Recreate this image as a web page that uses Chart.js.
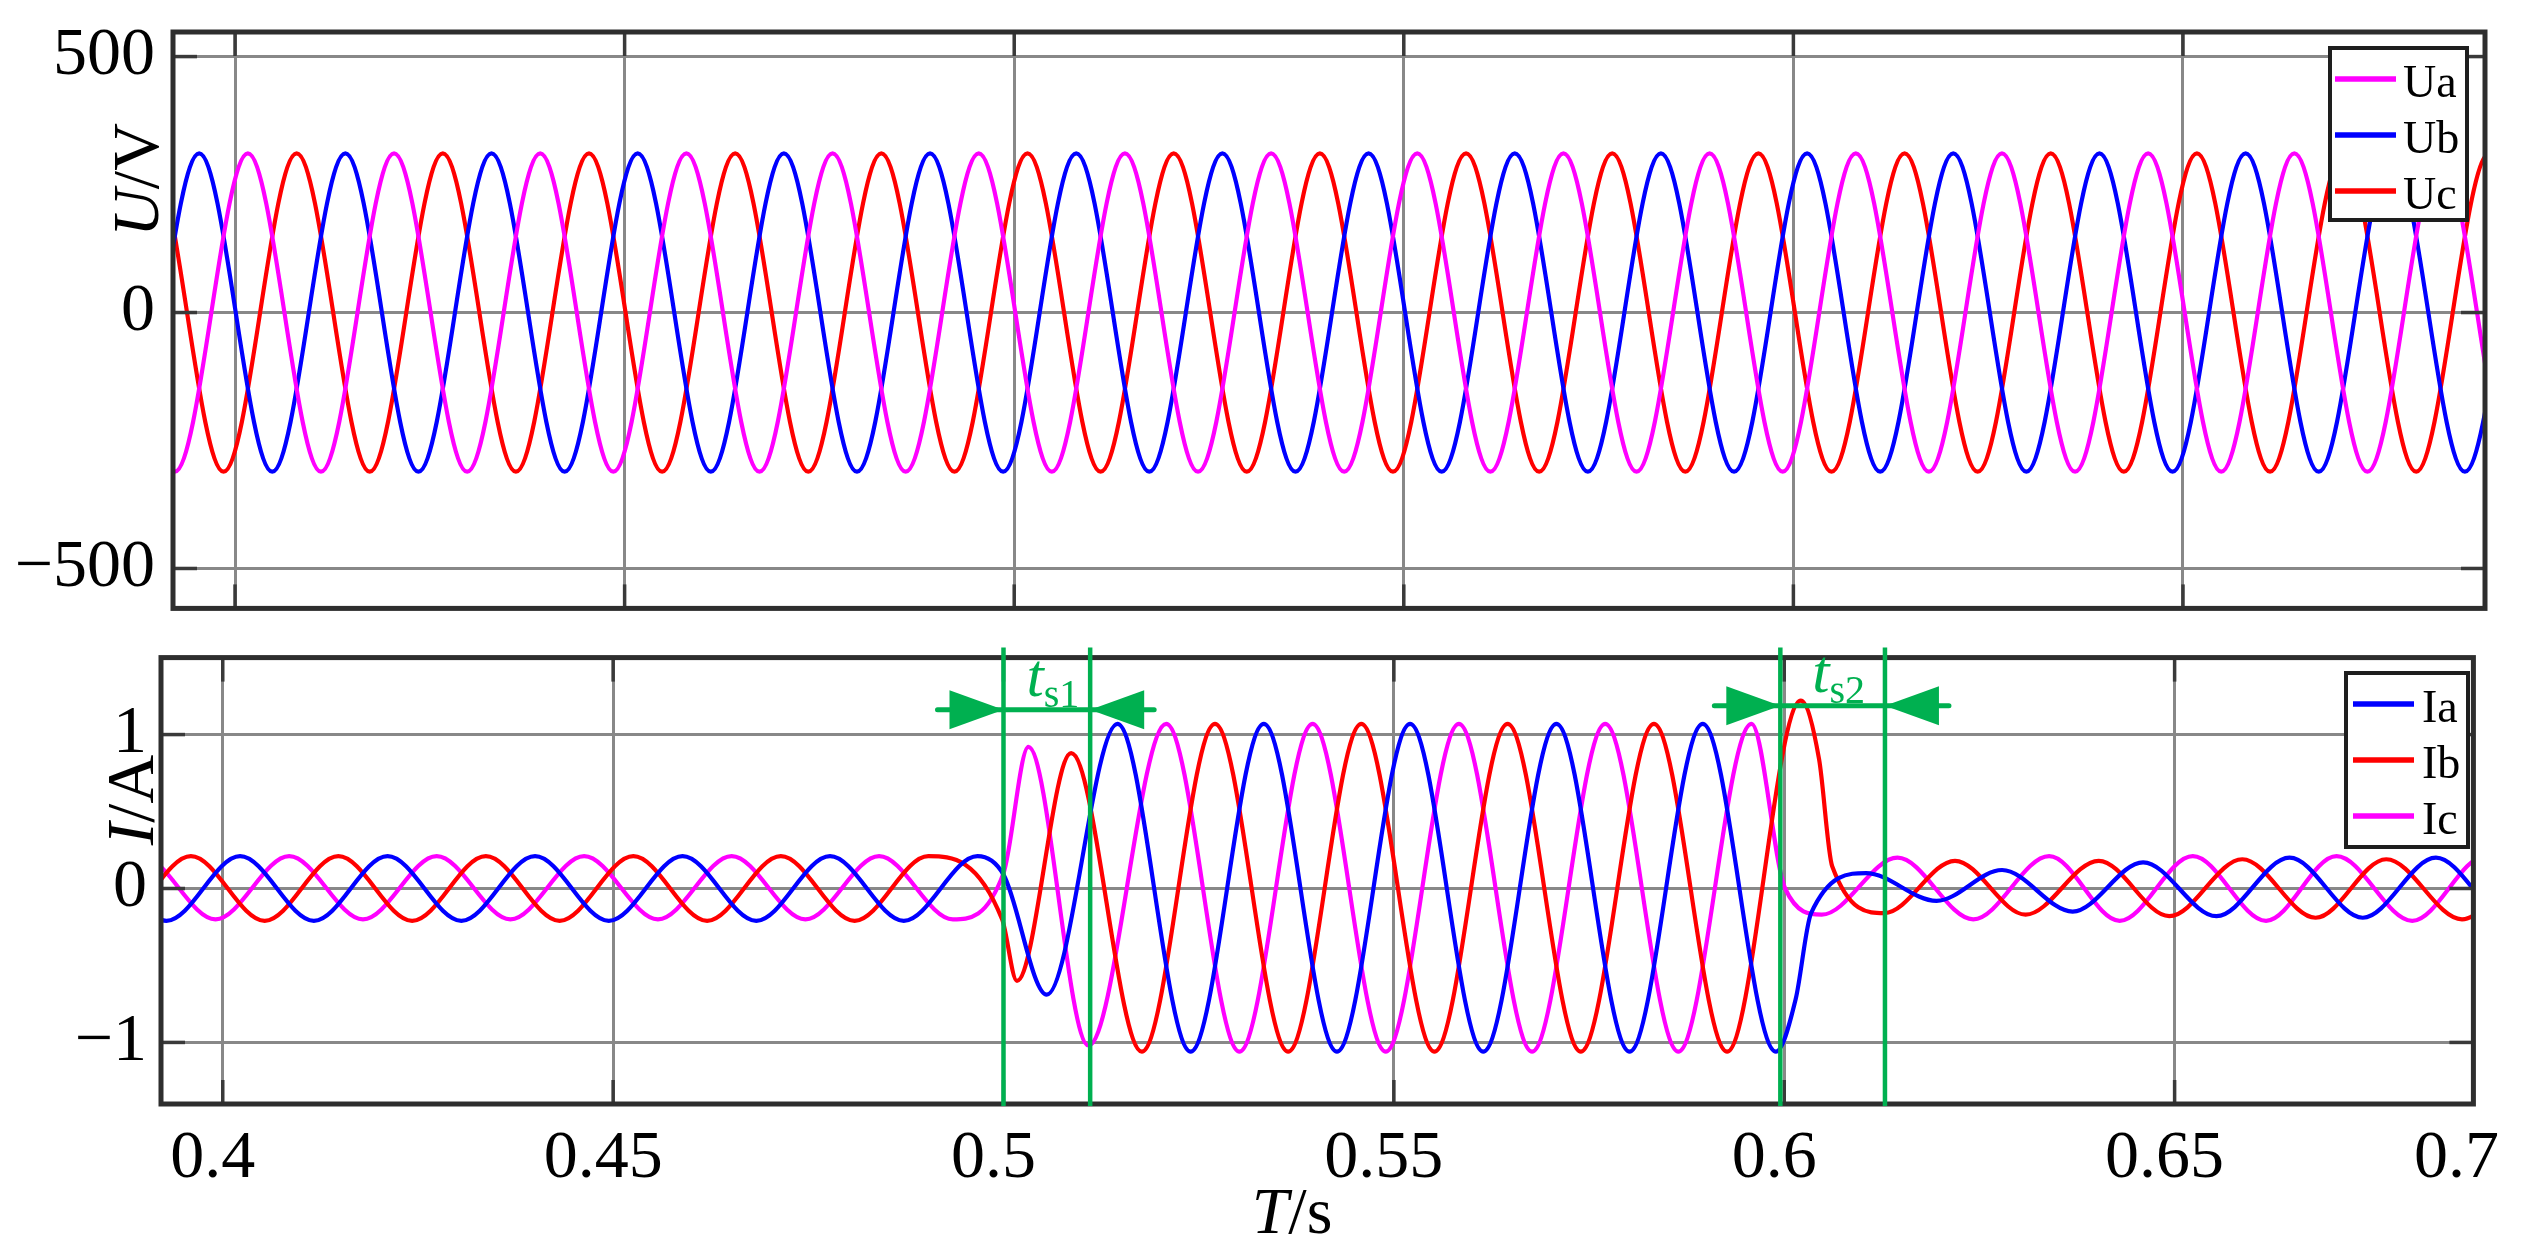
<!DOCTYPE html>
<html><head><meta charset="utf-8">
<script src="https://cdn.jsdelivr.net/npm/chart.js@4"></script>
<style>
html,body{margin:0;padding:0;background:#fff;}
#wrap{position:relative;width:2523px;height:1257px;background:#fff;overflow:hidden;}
canvas{position:absolute;left:0;}
#cU{top:0;} #cI{top:630px;}
</style></head><body>
<div id="wrap"><canvas id="cU" width="2523" height="640"></canvas><canvas id="cI" width="2523" height="627"></canvas></div>
<script>
// ---------- DATA (extrema times in s, values) ----------
// Upper plot: phase voltages U/V
const tUa = [0.37351,0.38289,0.39227,0.40165,0.41103,0.42041,0.42979,0.43917,0.44855,0.45793,0.46731,0.47669,0.48607,0.49545,0.50483,0.51421,0.52359,0.53297,0.54235,0.55173,0.56111,0.57049,0.57987,0.58925,0.59863,0.60801,0.61739,0.62677,0.63615,0.64553,0.65491,0.66429,0.67367,0.68305,0.69243,0.70181];
const vUa = [-311,311,-311,311,-311,311,-311,311,-311,311,-311,311,-311,311,-311,311,-311,311,-311,311,-311,311,-311,311,-311,311,-311,311,-311,311,-311,311,-311,311,-311,311];
const tUb = [0.37664,0.38602,0.39540,0.40478,0.41416,0.42354,0.43292,0.44230,0.45168,0.46106,0.47044,0.47982,0.48920,0.49858,0.50796,0.51734,0.52672,0.53610,0.54548,0.55486,0.56424,0.57362,0.58300,0.59238,0.60176,0.61114,0.62052,0.62990,0.63928,0.64866,0.65804,0.66742,0.67680,0.68618,0.69556,0.70494];
const vUb = [311,-311,311,-311,311,-311,311,-311,311,-311,311,-311,311,-311,311,-311,311,-311,311,-311,311,-311,311,-311,311,-311,311,-311,311,-311,311,-311,311,-311,311,-311];
const tUc = [0.37977,0.38915,0.39853,0.40791,0.41729,0.42667,0.43605,0.44543,0.45481,0.46419,0.47357,0.48295,0.49233,0.50171,0.51109,0.52047,0.52985,0.53923,0.54861,0.55799,0.56737,0.57675,0.58613,0.59551,0.60489,0.61427,0.62365,0.63303,0.64241,0.65179,0.66117,0.67055,0.67993,0.68931,0.69869];
const vUc = [-311,311,-311,311,-311,311,-311,311,-311,311,-311,311,-311,311,-311,311,-311,311,-311,311,-311,311,-311,311,-311,311,-311,311,-311,311,-311,311,-311,311,-311];

// Lower plot: phase currents I/A
const tIa = [0.37389,0.38334,0.39278,0.40222,0.41167,0.42111,0.43056,0.44000,0.44945,0.45889,0.46834,0.47778,0.48723,0.49667,0.50000,0.50554,0.51460,0.52397,0.53334,0.54271,0.55208,0.56145,0.57082,0.58019,0.58956,0.59893,0.60146,0.60344,0.61048,0.61951,0.62790,0.63694,0.64597,0.65536,0.66472,0.67410,0.68347,0.69290,0.70230];
const vIa = [-0.21,0.21,-0.21,0.21,-0.21,0.21,-0.21,0.21,-0.21,0.21,-0.21,0.21,-0.21,0.21,0.09,-0.69,1.07,-1.06,1.07,-1.06,1.07,-1.06,1.07,-1.06,1.07,-1.06,-0.72,-0.16,0.10,-0.08,0.12,-0.15,0.17,-0.18,0.20,-0.19,0.20,-0.20,0.20];
const tIb = [0.37703,0.38648,0.39592,0.40537,0.41481,0.42426,0.43370,0.44315,0.45259,0.46204,0.47148,0.48093,0.49037,0.49982,0.50172,0.50867,0.51772,0.52709,0.53646,0.54583,0.55520,0.56457,0.57394,0.58331,0.59268,0.60212,0.60446,0.60614,0.61283,0.62187,0.63091,0.64028,0.64932,0.65867,0.66806,0.67711,0.68681,0.69620,0.70560];
const vIb = [0.21,-0.21,0.21,-0.21,0.21,-0.21,0.21,-0.21,0.21,-0.21,0.21,-0.21,0.21,-0.20,-0.60,0.88,-1.06,1.07,-1.06,1.07,-1.06,1.07,-1.06,1.07,-1.06,1.22,0.84,0.145,-0.16,0.18,-0.17,0.18,-0.18,0.19,-0.19,0.19,-0.20,0.19,-0.20];
const tIc = [0.38017,0.38962,0.39907,0.40851,0.41796,0.42740,0.43685,0.44629,0.45574,0.46518,0.47463,0.48407,0.49352,0.50000,0.50319,0.51088,0.52085,0.53022,0.53959,0.54896,0.55833,0.56770,0.57707,0.58644,0.59581,0.60011,0.60480,0.61451,0.62421,0.63393,0.64296,0.65233,0.66171,0.67074,0.68044,0.68980,0.69910];
const vIc = [-0.20,0.21,-0.20,0.21,-0.20,0.21,-0.20,0.21,-0.20,0.21,-0.20,0.21,-0.20,0.10,0.92,-1.02,1.07,-1.06,1.07,-1.06,1.07,-1.06,1.07,-1.06,1.07,0.00,-0.17,0.20,-0.20,0.21,-0.21,0.21,-0.21,0.21,-0.21,0.21,-0.21];

// Axes / ticks
const xRangeU = [0.39204, 0.68876];
const yRangeU = [-578, 548];
const xTicksU = [0.4, 0.45, 0.5, 0.55, 0.6, 0.65];
const yTicksU = [-500, 0, 500];
const yLabelsU = ['\u2212500', '0', '500'];

const xRangeI = [0.39209, 0.68827];
const yRangeI = [-1.40, 1.50];
const xTicksI = [0.4, 0.45, 0.5, 0.55, 0.6, 0.65, 0.68737];
const xLabelsI = ['0.4', '0.45', '0.5', '0.55', '0.6', '0.65', '0.7'];
const yTicksI = [-1, 0, 1];
const yLabelsI = ['\u22121', '0', '1'];

// Settling-time annotations (t_s1, t_s2): boundary times and arrow level (A)
const tsTimes = [0.5000, 0.5111, 0.5995, 0.6129];
const tsArrowLevel = [1.162, 1.188];
const tsNames = ['s1', 's2'];

// ---------- helpers ----------
const FONT = "'Liberation Serif','Times New Roman',Times,serif";
const GRID = '#888888';
const GREEN = '#00b050';
const FRAME = '#2e2e2e';

function pts(ts, vs) { return ts.map((t, i) => ({ x: t, y: vs[i] })); }
function ds(label, color, ts, vs) {
  return { label, data: pts(ts, vs), borderColor: color, backgroundColor: color,
    borderWidth: 4.2, pointRadius: 0, pointHoverRadius: 0, fill: false,
    cubicInterpolationMode: 'monotone', capBezierPoints: false, clip: 0 };
}
function fixedTicks(values) { return s => { s.ticks = values.map(v => ({ value: v })); }; }

function richText(ctx, parts, x, y, rot) {
  ctx.save();
  ctx.translate(x, y);
  if (rot) ctx.rotate(rot);
  ctx.textBaseline = 'alphabetic';
  ctx.fillStyle = '#000';
  let w = 0;
  parts.forEach(p => { ctx.font = (p.i ? 'italic ' : '') + p.s + 'px ' + FONT; p.w = ctx.measureText(p.t).width; w += p.w; });
  let cx = -w / 2;
  parts.forEach(p => { ctx.font = (p.i ? 'italic ' : '') + p.s + 'px ' + FONT; ctx.fillText(p.t, cx, 0); cx += p.w; });
  ctx.restore();
}

function framePlugin(lastTickSkip) {
  return { id: 'frame', afterDatasetsDraw(chart) {
    const { ctx, chartArea: a, scales: { x, y } } = chart;
    ctx.save();
    ctx.strokeStyle = '#3a3a3a'; ctx.lineWidth = 3.5; ctx.lineCap = 'butt';
    const seg = (x0, y0, x1, y1) => { ctx.beginPath(); ctx.moveTo(x0, y0); ctx.lineTo(x1, y1); ctx.stroke(); };
    x.ticks.forEach(t => {
      if (t.value > lastTickSkip) return;
      const px = x.getPixelForValue(t.value);
      seg(px, a.top, px, a.top + 24); seg(px, a.bottom, px, a.bottom - 24);
    });
    y.ticks.forEach(t => {
      const py = y.getPixelForValue(t.value);
      seg(a.left, py, a.left + 24, py); seg(a.right, py, a.right - 24, py);
    });
    ctx.strokeStyle = FRAME; ctx.lineWidth = 5;
    ctx.strokeRect(a.left, a.top, a.right - a.left, a.bottom - a.top);
    ctx.restore();
  } };
}

function legendPlugin(box, rowsY, lx0, lx1, tx, size) {
  return { id: 'lg', afterDraw(chart) {
    const ctx = chart.ctx;
    ctx.save();
    ctx.fillStyle = '#fff';
    ctx.fillRect(box[0], box[1], box[2], box[3]);
    ctx.strokeStyle = '#1e1e1e'; ctx.lineWidth = 4;
    ctx.strokeRect(box[0], box[1], box[2], box[3]);
    chart.data.datasets.forEach((d, i) => {
      const yy = rowsY[i];
      ctx.strokeStyle = d.borderColor; ctx.lineWidth = 5.5; ctx.lineCap = 'butt';
      ctx.beginPath(); ctx.moveTo(lx0, yy); ctx.lineTo(lx1, yy); ctx.stroke();
      ctx.fillStyle = '#000'; ctx.font = size + 'px ' + FONT; ctx.textBaseline = 'alphabetic';
      ctx.fillText(d.label, tx, yy + 18);
    });
    ctx.restore();
  } };
}

const titlesU = { id: 'titlesU', afterDraw(chart) {
  richText(chart.ctx, [{ t: 'U', i: true, s: 66 }, { t: '/V', s: 66 }], 158, 180, -Math.PI / 2);
} };

const titlesI = { id: 'titlesI', afterDraw(chart) {
  const ctx = chart.ctx;
  richText(ctx, [{ t: 'I', i: true, s: 68 }, { t: '/A', s: 68 }], 153, 170, -Math.PI / 2);
  richText(ctx, [{ t: 'T', i: true, s: 66 }, { t: '/s', s: 66 }], 1292, 603, 0);
} };

const settlePlugin = { id: 'settle', afterDraw(chart) {
  const { ctx, chartArea: a, scales: { x, y } } = chart;
  ctx.save();
  ctx.strokeStyle = GREEN; ctx.fillStyle = GREEN;
  ctx.lineWidth = 4.5; ctx.lineCap = 'butt';
  tsTimes.forEach(t => {
    const px = x.getPixelForValue(t);
    ctx.beginPath(); ctx.moveTo(px, a.top - 10); ctx.lineTo(px, a.bottom + 2); ctx.stroke();
  });
  for (let k = 0; k < 2; k++) {
    const xl = x.getPixelForValue(tsTimes[2 * k]);
    const xr = x.getPixelForValue(tsTimes[2 * k + 1]);
    const yy = y.getPixelForValue(tsArrowLevel[k]);
    ctx.lineWidth = 5; ctx.lineCap = 'round';
    ctx.beginPath(); ctx.moveTo(xl - 66, yy); ctx.lineTo(xr + 64, yy); ctx.stroke();
    const head = (tip, dir) => {
      ctx.beginPath(); ctx.moveTo(tip, yy); ctx.lineTo(tip - dir * 54, yy - 19.5);
      ctx.lineTo(tip - dir * 54, yy + 19.5); ctx.closePath(); ctx.fill();
    };
    head(xl, 1); head(xr, -1);
    ctx.textBaseline = 'alphabetic';
    ctx.font = 'italic 62px ' + FONT;
    const wt = ctx.measureText('t').width;
    ctx.font = '40px ' + FONT;
    const ws = ctx.measureText(tsNames[k]).width;
    const cx = (xl + xr) / 2 + 6;
    const x0 = cx - (wt + ws) / 2;
    ctx.font = 'italic 62px ' + FONT;
    ctx.fillText('t', x0, yy - 14);
    ctx.font = '40px ' + FONT;
    ctx.fillText(tsNames[k], x0 + wt, yy - 3);
  }
  ctx.restore();
} };

Chart.defaults.font.family = FONT;

// ---------- upper chart ----------
new Chart(document.getElementById('cU'), {
  type: 'line',
  data: { datasets: [ds('Ua', '#ff00ff', tUa, vUa), ds('Ub', '#0000ff', tUb, vUb), ds('Uc', '#ff0000', tUc, vUc)] },
  options: {
    responsive: false, animation: false, devicePixelRatio: 1,
    layout: { padding: { left: 0, top: 32, right: 38, bottom: 0 } },
    elements: { line: { capBezierPoints: false } },
    plugins: { legend: { display: false }, tooltip: { enabled: false }, title: { display: false } },
    scales: {
      x: { type: 'linear', min: xRangeU[0], max: xRangeU[1], afterBuildTicks: fixedTicks(xTicksU),
        afterFit: s => { s.height = 27; },
        ticks: { display: false }, grid: { color: GRID, lineWidth: 3, drawTicks: false }, border: { display: false } },
      y: { type: 'linear', min: yRangeU[0], max: yRangeU[1], afterBuildTicks: fixedTicks(yTicksU),
        afterFit: s => { s.width = 173; },
        ticks: { color: '#000', padding: 18, font: { family: FONT, size: 68, lineHeight: 0.4 },
          callback: v => yLabelsU[yTicksU.indexOf(v)] },
        grid: { color: GRID, lineWidth: 3, drawTicks: false }, border: { display: false } }
    }
  },
  plugins: [framePlugin(0.68), legendPlugin([2330, 48, 137, 172], [79, 135, 191], 2335, 2396, 2403, 46), titlesU]
});

// ---------- lower chart ----------
new Chart(document.getElementById('cI'), {
  type: 'line',
  data: { datasets: [ds('Ia', '#0000ff', tIa, vIa), ds('Ib', '#ff0000', tIb, vIb), ds('Ic', '#ff00ff', tIc, vIc)] },
  options: {
    responsive: false, animation: false, devicePixelRatio: 1,
    layout: { padding: { left: 0, top: 27, right: 40, bottom: 0 } },
    elements: { line: { capBezierPoints: false } },
    plugins: { legend: { display: false }, tooltip: { enabled: false }, title: { display: false } },
    scales: {
      x: { type: 'linear', min: xRangeI[0], max: xRangeI[1], afterBuildTicks: fixedTicks(xTicksI),
        afterFit: s => { s.height = 153; },
        ticks: { color: '#000', padding: 14, labelOffset: -10, maxRotation: 0, autoSkip: false,
          font: { family: FONT, size: 68 }, callback: v => xLabelsI[xTicksI.indexOf(v)] },
        grid: { color: c => (c.tick && c.tick.value > 0.68) ? 'rgba(0,0,0,0)' : GRID, lineWidth: 3, drawTicks: false },
        border: { display: false } },
      y: { type: 'linear', min: yRangeI[0], max: yRangeI[1], afterBuildTicks: fixedTicks(yTicksI),
        afterFit: s => { s.width = 161; },
        ticks: { color: '#000', padding: 14, font: { family: FONT, size: 68, lineHeight: 0.4 },
          callback: v => yLabelsI[yTicksI.indexOf(v)] },
        grid: { color: GRID, lineWidth: 3, drawTicks: false }, border: { display: false } }
    }
  },
  plugins: [framePlugin(0.68), legendPlugin([2346, 43, 122, 174], [74, 130, 186], 2353, 2414, 2422, 46), titlesI, settlePlugin]
});
</script>
</body></html>
